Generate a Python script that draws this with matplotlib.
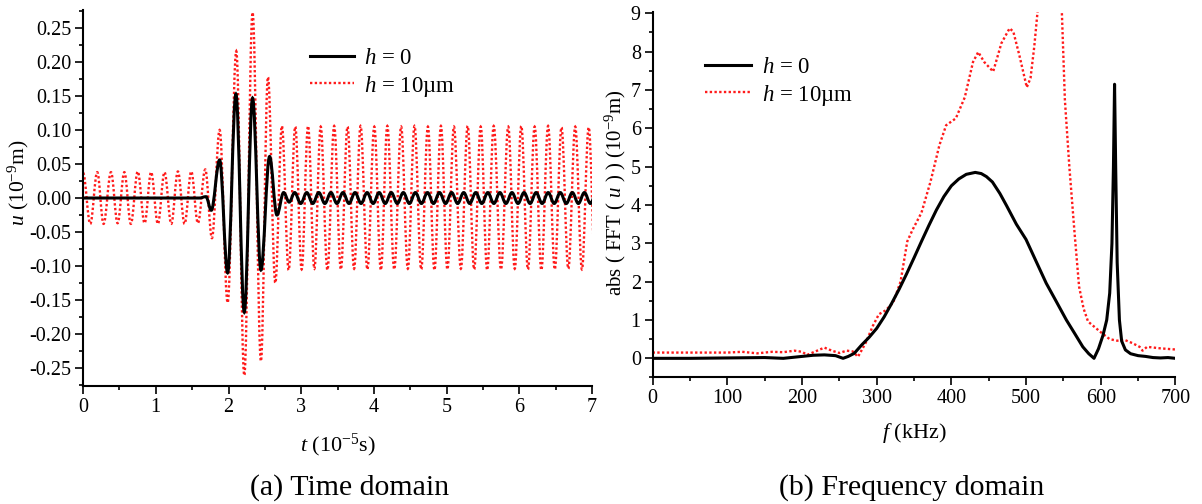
import glob
import matplotlib
matplotlib.use("Agg")
import matplotlib.pyplot as plt
from matplotlib import font_manager
from matplotlib.path import Path
from matplotlib.patches import PathPatch
from matplotlib.lines import Line2D
from matplotlib.ticker import MultipleLocator, FormatStrFormatter

for fp in glob.glob('/usr/share/fonts/**/Liberation*Serif*.ttf', recursive=True) + \
          glob.glob('/usr/local/share/fonts/**/Liberation*Serif*.ttf', recursive=True):
    try:
        font_manager.fontManager.addfont(fp)
    except Exception:
        pass

serif_name = 'Liberation Serif'
names = {f.name for f in font_manager.fontManager.ttflist}
if serif_name not in names:
    for cand in ('Nimbus Roman', 'Times New Roman', 'Tinos', 'DejaVu Serif'):
        if cand in names:
            serif_name = cand
            break

plt.rcParams['font.family'] = [serif_name, 'DejaVu Serif']
plt.rcParams['mathtext.fontset'] = 'custom'
plt.rcParams['mathtext.rm'] = serif_name
plt.rcParams['mathtext.it'] = serif_name + ':italic'
plt.rcParams['axes.unicode_minus'] = False

# ---------------- (a) time domain: extrema ----------------
t_h10 = [0.000, 0.099, 0.195, 0.282, 0.384, 0.475, 0.568, 0.657, 0.752, 0.846,
         0.936, 1.029, 1.120, 1.213, 1.304, 1.396, 1.488, 1.579, 1.681, 1.772,
         1.878, 1.988, 2.107, 2.217, 2.331, 2.446, 2.542, 2.644, 2.734, 2.827,
         2.918, 3.006, 3.094, 3.181, 3.268, 3.360, 3.453, 3.545, 3.637, 3.727,
         3.816, 3.910, 4.005, 4.095, 4.184, 4.279, 4.374, 4.466, 4.558, 4.650,
         4.742, 4.832, 4.921, 5.010, 5.100, 5.195, 5.289, 5.378, 5.468, 5.557,
         5.647, 5.747, 5.847, 5.936, 6.026, 6.118, 6.210, 6.302, 6.395, 6.487,
         6.579, 6.673, 6.768, 6.860, 6.953, 7.045]
u_h10 = [0.037, -0.038, 0.038, -0.038, 0.038, -0.037, 0.038, -0.038, 0.039, -0.037,
         0.038, -0.038, 0.038, -0.038, 0.039, -0.038, 0.039, -0.037, 0.042, -0.059,
         0.100, -0.154, 0.216, -0.261, 0.273, -0.240, 0.178, -0.125, 0.106, -0.106,
         0.105, -0.105, 0.106, -0.104, 0.105, -0.106, 0.106, -0.105, 0.105, -0.104,
         0.106, -0.105, 0.105, -0.106, 0.106, -0.105, 0.105, -0.104, 0.106, -0.105,
         0.105, -0.106, 0.106, -0.105, 0.105, -0.104, 0.106, -0.105, 0.105, -0.106,
         0.106, -0.105, 0.105, -0.104, 0.106, -0.105, 0.105, -0.106, 0.106, -0.105,
         0.104, -0.104, 0.105, -0.105, 0.104, -0.105]

t_h0 = [0.000, 1.600, 1.690, 1.763, 1.878, 1.988, 2.102, 2.217, 2.331, 2.446,
        2.565, 2.666, 2.758, 2.835, 2.910, 2.993, 3.076, 3.159, 3.242, 3.325,
        3.408, 3.491, 3.574, 3.657, 3.740, 3.823, 3.906, 3.989, 4.072, 4.155,
        4.238, 4.321, 4.404, 4.487, 4.570, 4.653, 4.736, 4.819, 4.902, 4.985,
        5.068, 5.151, 5.234, 5.317, 5.400, 5.483, 5.566, 5.649, 5.732, 5.815,
        5.898, 5.981, 6.064, 6.147, 6.230, 6.313, 6.396, 6.479, 6.562, 6.645,
        6.728, 6.811, 6.894, 6.977, 7.060]
u_h0 = [0.000, 0.000, 0.002, -0.018, 0.056, -0.110, 0.153, -0.168, 0.147, -0.106,
        0.061, -0.025, 0.008, -0.006, 0.008, -0.008, 0.008, -0.008, 0.008, -0.008,
        0.008, -0.008, 0.008, -0.008, 0.008, -0.008, 0.008, -0.008, 0.008, -0.008,
        0.008, -0.008, 0.008, -0.008, 0.008, -0.008, 0.008, -0.008, 0.008, -0.008,
        0.008, -0.008, 0.008, -0.008, 0.008, -0.008, 0.008, -0.008, 0.008, -0.008,
        0.008, -0.008, 0.008, -0.008, 0.008, -0.008, 0.008, -0.008, 0.008, -0.008,
        0.008, -0.008, 0.008, -0.008, 0.008]

# ---------------- (b) frequency domain ----------------
f_h0 = [0, 50, 100, 150, 175, 200, 215, 230, 245, 255, 262, 270, 280, 290, 300,
        310, 320, 330, 340, 350, 360, 370, 380, 390, 400, 410, 420, 432, 440, 447,
        455, 465, 474, 487, 500, 513, 527, 540, 554, 566, 576, 584, 591, 597, 603,
        608, 612, 615, 617, 618.5, 620, 622, 625, 628, 633, 640, 650, 660, 670, 680,
        690, 700]
A_h0 = [0, 0, 0.01, 0.02, 0.0, 0.05, 0.08, 0.09, 0.07, 0.0, 0.05, 0.13, 0.35, 0.55, 0.78,
        1.08, 1.43, 1.8, 2.2, 2.62, 3.05, 3.47, 3.87, 4.22, 4.5, 4.68, 4.8, 4.85, 4.82, 4.74,
        4.6, 4.3, 3.98, 3.5, 3.1, 2.55, 1.96, 1.5, 1.0, 0.62, 0.3, 0.12, 0.0, 0.25, 0.6,
        1.0, 1.7, 3.0, 5.0, 7.15, 5.0, 2.5, 1.0, 0.45, 0.22, 0.12, 0.07, 0.05, 0.02, 0.01,
        0.02, 0.0]

f_h10 = [0, 50, 100, 120, 140, 160, 175, 190, 200, 207, 218, 230, 240, 250, 260,
         268, 275, 285, 295, 303, 312, 322, 332, 341, 348, 360, 372, 384, 393, 406,
         418, 429, 436, 444, 456, 467, 478, 483, 491, 501, 506, 511, 515, 520, 530,
         540, 546, 548, 552, 558, 565, 571, 577, 583, 594, 602, 612, 622, 632, 642,
         652, 656, 662, 680, 700]
A_h10 = [0.15, 0.15, 0.15, 0.17, 0.13, 0.17, 0.16, 0.2, 0.17, 0.09, 0.18, 0.28, 0.2, 0.14, 0.2,
         0.18, 0.04, 0.39, 0.85, 1.15, 1.25, 1.45, 2.0, 3.05, 3.35, 3.8, 4.6, 5.56, 6.08, 6.26,
         6.81, 7.73, 7.99, 7.73, 7.48, 8.22, 8.61, 8.52, 7.91, 7.07, 7.31, 8.13, 8.96, 10.0, 12.0,
         12.0, 10.0, 9.0, 6.74, 4.99, 3.26, 1.87, 1.3, 0.96, 0.78, 0.65, 0.5, 0.46, 0.48, 0.4,
         0.3, 0.2, 0.3, 0.26, 0.23]

labels = ['$h$ = 0', '$h$ = 10\u00b5m']
RED = '#ff1a1a'
DOT = (0, (1, 1))


def wave_path(ts, us):
    """Smooth path through successive extrema (horizontal tangents at each)."""
    k = 0.3634
    pts = list(zip(ts, us))
    verts = [pts[0]]
    codes = [Path.MOVETO]
    for (t0, u0), (t1, u1) in zip(pts[:-1], pts[1:]):
        dt = t1 - t0
        verts += [(t0 + k * dt, u0), (t1 - k * dt, u1), (t1, u1)]
        codes += [Path.CURVE4] * 3
    return Path(verts, codes)


def style_axes(ax):
    for s in ('top', 'right'):
        ax.spines[s].set_visible(False)
    for s in ('left', 'bottom'):
        ax.spines[s].set_linewidth(1.5)
    ax.tick_params(which='major', direction='out', length=5.5, width=1.2,
                   labelsize=14.5, pad=3)
    ax.tick_params(which='minor', direction='out', length=3, width=1.2)


fig = plt.figure(figsize=(12.02, 5.04), dpi=100)

# ---- left panel
ax1 = fig.add_axes([0.0691, 0.2341, 0.4235, 0.746])
ax1.add_patch(PathPatch(wave_path(t_h10, u_h10), fill=False, edgecolor=RED,
                        lw=1.7, linestyle=DOT))
ax1.add_patch(PathPatch(wave_path(t_h0, u_h0), fill=False, edgecolor='black', lw=2.2))
ax1.set_xlim(0, 7)
ax1.set_ylim(-0.2765, 0.2765)
ax1.xaxis.set_major_locator(MultipleLocator(1))
ax1.xaxis.set_minor_locator(MultipleLocator(0.5))
ax1.yaxis.set_major_locator(MultipleLocator(0.05))
ax1.yaxis.set_minor_locator(MultipleLocator(0.025))
ax1.yaxis.set_major_formatter(FormatStrFormatter('%.2f'))
ax1.xaxis.set_major_formatter(FormatStrFormatter('%d'))
style_axes(ax1)
ax1.set_xlabel('$t$ (10$^{-5}$s)', fontsize=16, va='center')
ax1.xaxis.set_label_coords(0.5, -0.157)
ax1.set_ylabel('$u$ (10$^{-9}$m)', fontsize=15.5, va='center', ha='center')
ax1.yaxis.set_label_coords(-0.128, 0.54)
h1 = [Line2D([], [], color='black', lw=2.2),
      Line2D([], [], color=RED, lw=1.7, linestyle=DOT)]
ax1.legend(h1, labels, loc='center left', bbox_to_anchor=(0.446, 0.832),
           frameon=False, fontsize=16.5, handlelength=1.9, handletextpad=0.45,
           labelspacing=0.2, borderpad=0, borderaxespad=0)

# ---- right panel
ax2 = fig.add_axes([0.5429, 0.251, 0.435, 0.7256])
ax2.plot(f_h10, A_h10, color=RED, lw=1.7, linestyle=DOT)
ax2.plot(f_h0, A_h0, color='black', lw=2.2)
ax2.set_xlim(0, 700)
ax2.set_ylim(-0.5, 9.04)
ax2.xaxis.set_major_locator(MultipleLocator(100))
ax2.xaxis.set_minor_locator(MultipleLocator(50))
ax2.yaxis.set_major_locator(MultipleLocator(1))
ax2.yaxis.set_minor_locator(MultipleLocator(0.5))
ax2.xaxis.set_major_formatter(FormatStrFormatter('%d'))
ax2.yaxis.set_major_formatter(FormatStrFormatter('%d'))
style_axes(ax2)
ax2.set_xlabel('$f$ (kHz)', fontsize=16, va='center')
ax2.xaxis.set_label_coords(0.5, -0.152)
ax2.set_ylabel('abs ( FFT ( $u$ ) ) (10$^{-9}$m)', fontsize=15, va='center', ha='center')
ax2.yaxis.set_label_coords(-0.072, 0.507)
h2 = [Line2D([], [], color='black', lw=2.2),
      Line2D([], [], color=RED, lw=1.7, linestyle=DOT)]
ax2.legend(h2, labels, loc='center left', bbox_to_anchor=(0.101, 0.8075),
           frameon=False, fontsize=16.5, handlelength=2.0, handletextpad=0.45,
           labelspacing=0.2, borderpad=0, borderaxespad=0)

fig.text(350 / 1202, 1 - 488 / 504, '(a) Time domain', ha='center', va='center', fontsize=21.5)
fig.text(912 / 1202, 1 - 488 / 504, '(b) Frequency domain', ha='center', va='center', fontsize=21.5)

fig.savefig('out.png', dpi=100)
